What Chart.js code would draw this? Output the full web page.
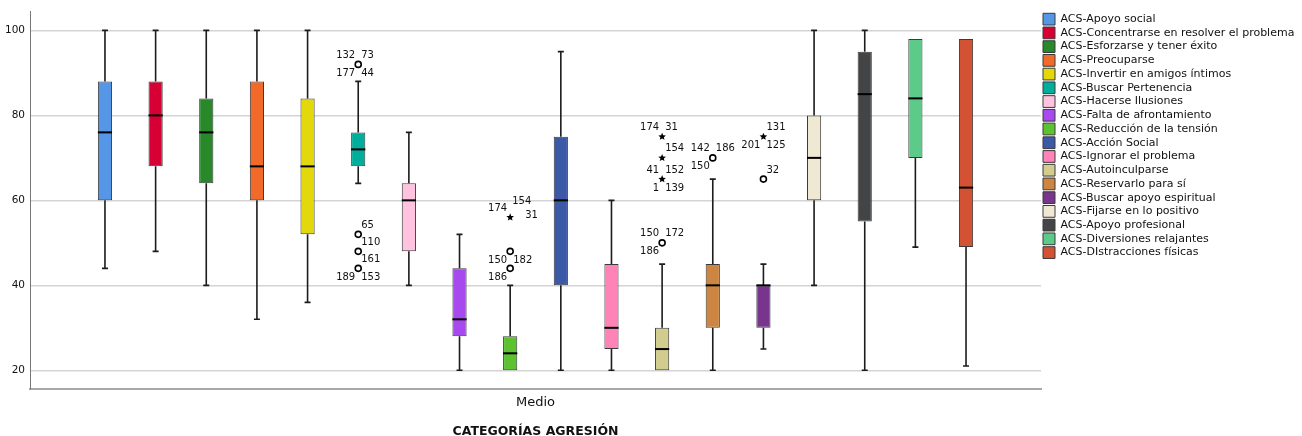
<!DOCTYPE html>
<html>
<head>
<meta charset="utf-8">
<script src="https://cdn.jsdelivr.net/npm/chart.js@4.4.0/dist/chart.umd.min.js"></script>
<style>
  html, body { margin: 0; padding: 0; background: #fff; }
  #wrap { width: 1302px; height: 436px; }
</style>
</head>
<body>
<div id="wrap"><canvas id="chart"></canvas></div>
<script>
// one category on the x axis, 18 coping scales (ACS) as boxplots
const categories = ["Medio"];

const seriesNames = [
    "ACS-Apoyo social",
    "ACS-Concentrarse en resolver el problema",
    "ACS-Esforzarse y tener éxito",
    "ACS-Preocuparse",
    "ACS-Invertir en amigos íntimos",
    "ACS-Buscar Pertenencia",
    "ACS-Hacerse Ilusiones",
    "ACS-Falta de afrontamiento",
    "ACS-Reducción de la tensión",
    "ACS-Acción Social",
    "ACS-Ignorar el problema",
    "ACS-Autoinculparse",
    "ACS-Reservarlo para sí",
    "ACS-Buscar apoyo espiritual",
    "ACS-Fijarse en lo positivo",
    "ACS-Apoyo profesional",
    "ACS-Diversiones relajantes",
    "ACS-DIstracciones físicas"
];

const colors = [
    "#5596e6", "#d70034", "#28882a", "#f26a2a", "#e2d80c", "#00ae9b",
    "#ffc2df", "#a848ef", "#5dc232", "#3c59a8", "#ff83b6", "#d2cd8e",
    "#cc8641", "#77358e", "#efe8d2", "#434445", "#5ccb8a", "#d35233"
];

// five-number summaries
const whiskerLow  = [44, 48, 40, 32, 36, 64, 40, 20, 20, 20, 20, 20, 20, 25, 40, 20, 49, 21];
const q1          = [60, 68, 64, 60, 52, 68, 48, 28, 20, 40, 25, 20, 30, 30, 60, 55, 70, 49];
const median      = [76, 80, 76, 68, 68, 72, 60, 32, 24, 60, 30, 25, 40, 40, 70, 85, 84, 63];
const q3          = [88, 88, 84, 88, 84, 76, 64, 44, 28, 75, 45, 30, 45, 40, 80, 95, 98, 98];
const whiskerHigh = [100, 100, 100, 100, 100, 88, 76, 52, 40, 95, 60, 45, 65, 45, 100, 100, 98, 98];

// outliers: "o" = outlier, "*" = extreme
const outlierValues = [[], [], [], [], [], [92, 52, 48, 44], [], [], [56, 48, 44], [], [], [75, 70, 65, 50], [70], [75, 65], [], [], [], []];
const outlierKinds  = [[], [], [], [], [], ["o", "o", "o", "o"], [], [], ["*", "o", "o"], [], [], ["*", "*", "*", "o"], ["o"], ["*", "o"], [], [], [], []];

// case numbers printed next to the outliers: [series, value, text, placement]
const caseLabels = [
    [5, 92, "132", "tl"], [5, 92, "73", "tr"], [5, 92, "177", "bl"], [5, 92, "44", "br"],
    [5, 52, "65", "tr"], [5, 48, "110", "tr"], [5, 44, "161", "tr"], [5, 44, "189", "bl"], [5, 44, "153", "br"],
    [8, 56, "174", "tl"], [8, 56, "154", "tt"], [8, 56, "31", "rr"],
    [8, 48, "150", "bl"], [8, 48, "182", "br"], [8, 44, "186", "bl"],
    [11, 75, "174", "tl"], [11, 75, "31", "tr"], [11, 70, "154", "tr"],
    [11, 65, "41", "tl"], [11, 65, "152", "tr"], [11, 65, "1", "bl"], [11, 65, "139", "br"],
    [11, 50, "150", "tl"], [11, 50, "172", "tr"], [11, 50, "186", "bl"],
    [12, 70, "142", "tl"], [12, 70, "186", "tr"], [12, 70, "150", "bl"],
    [13, 75, "131", "tr"], [13, 75, "201", "bl"], [13, 75, "125", "br"],
    [13, 65, "32", "tr"]
];

const yTicks = [20, 40, 60, 80, 100];

const placement = {
    tl: [-3, -9], tr: [3, -9], bl: [-3, 9], br: [3, 9],
    tt: [2, -16], rr: [15, -2]
};

function drawStar(ctx, x, y, r) {
    ctx.beginPath();
    for (let k = 0; k < 10; k++) {
        let rad = k % 2 === 0 ? r : r * 0.45;
        let a = -Math.PI / 2 + k * Math.PI / 5;
        ctx.lineTo(x + rad * Math.cos(a), y + rad * Math.sin(a));
    }
    ctx.closePath();
    ctx.fill();
}

const boxPlot = {
    id: "boxPlot",
    afterDatasetsDraw(chart) {
        const ctx = chart.ctx;
        const y = chart.scales.y;

        chart.data.datasets.forEach((ds, i) => {
            const bar = chart.getDatasetMeta(i).data[0];
            const x = bar.x, half = bar.width / 2;
            const yHi = y.getPixelForValue(whiskerHigh[i]);
            const yLo = y.getPixelForValue(whiskerLow[i]);
            const yQ3 = y.getPixelForValue(q3[i]);
            const yQ1 = y.getPixelForValue(q1[i]);
            const yMed = y.getPixelForValue(median[i]);

            ctx.save();
            ctx.strokeStyle = "#1c1c1c";
            ctx.lineWidth = 1.6;
            ctx.beginPath();
            if (whiskerHigh[i] > q3[i]) {
                ctx.moveTo(x, yQ3); ctx.lineTo(x, yHi);
                ctx.moveTo(x - 3, yHi); ctx.lineTo(x + 3, yHi);
            }
            if (whiskerLow[i] < q1[i]) {
                ctx.moveTo(x, yQ1); ctx.lineTo(x, yLo);
                ctx.moveTo(x - 3, yLo); ctx.lineTo(x + 3, yLo);
            }
            ctx.stroke();

            ctx.strokeStyle = "#000";
            ctx.lineWidth = 2;
            ctx.beginPath();
            ctx.moveTo(x - half, yMed); ctx.lineTo(x + half, yMed);
            ctx.stroke();

            outlierValues[i].forEach((v, j) => {
                const py = y.getPixelForValue(v);
                if (outlierKinds[i][j] === "*") {
                    ctx.fillStyle = "#000";
                    drawStar(ctx, x, py, 4);
                } else {
                    ctx.fillStyle = "#fff";
                    ctx.strokeStyle = "#000";
                    ctx.lineWidth = 1.6;
                    ctx.beginPath();
                    ctx.arc(x, py, 3, 0, Math.PI * 2);
                    ctx.fill();
                    ctx.stroke();
                }
            });
            ctx.restore();
        });

        ctx.save();
        ctx.font = "10px 'DejaVu Sans'";
        ctx.fillStyle = "#111";
        ctx.textBaseline = "middle";
        caseLabels.forEach(([s, v, text, at]) => {
            const bar = chart.getDatasetMeta(s).data[0];
            const [dx, dy] = placement[at];
            ctx.textAlign = dx < 0 ? "right" : "left";
            ctx.fillText(text, bar.x + dx, y.getPixelForValue(v) + dy);
        });
        ctx.restore();
    }
};

const datasets = seriesNames.map((name, i) => ({
    label: name,
    data: [[q1[i], q3[i]]],
    backgroundColor: colors[i],
    borderColor: "#3a3a3a",
    borderWidth: 1,
    borderSkipped: false,
    categoryPercentage: 0.9018,
    barPercentage: 0.28
}));

new Chart(document.getElementById("chart"), {
    type: "bar",
    data: { labels: categories, datasets: datasets },
    plugins: [boxPlot],
    options: {
        responsive: true,
        maintainAspectRatio: false,
        animation: false,
        layout: { padding: { top: 10, left: 0, right: 0, bottom: 0 } },
        plugins: {
            tooltip: { enabled: false },
            legend: {
                position: "right",
                align: "start",
                fullSize: false,
                maxWidth: 261,
                labels: {
                    boxWidth: 12,
                    boxHeight: 11.73,
                    padding: 2,
                    color: "#111",
                    font: { family: "'DejaVu Sans'", size: 11 }
                }
            }
        },
        scales: {
            x: {
                grid: { display: false, drawTicks: false },
                border: { display: true, color: "#a8a8a8", width: 2 },
                ticks: { padding: 6, color: "#111", font: { family: "'DejaVu Sans'", size: 13 } },
                title: {
                    display: true,
                    text: "CATEGORÍAS AGRESIÓN",
                    color: "#111",
                    padding: { top: 0, bottom: -3 },
                    font: { family: "'DejaVu Sans'", size: 12.5, weight: "bold" }
                },
                afterFit: s => { s.height = 47; }
            },
            y: {
                min: 15.6,
                max: 104.5,
                afterBuildTicks: s => { s.ticks = yTicks.map(v => ({ value: v })); },
                grid: { color: "#d4d4d4", lineWidth: 1.5, drawTicks: false },
                border: { display: true, color: "#777", width: 1 },
                ticks: { padding: 5, color: "#111", font: { family: "'DejaVu Sans'", size: 10.5 } },
                afterFit: s => { s.width = 30; }
            }
        }
    }
});
</script>
</body>
</html>
